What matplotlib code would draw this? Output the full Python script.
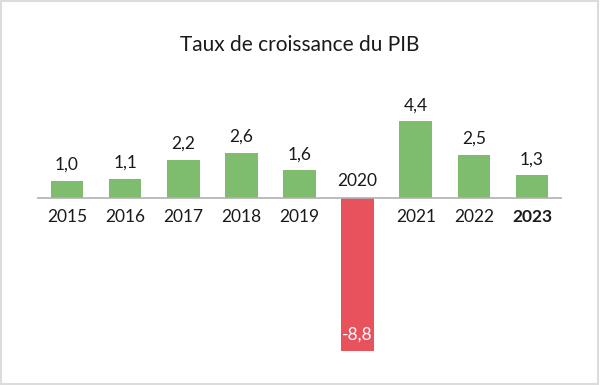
import matplotlib.pyplot as plt
from matplotlib.patches import Rectangle

years = ['2015', '2016', '2017', '2018', '2019', '2020', '2021', '2022', '2023']
growth = [1.0, 1.1, 2.2, 2.6, 1.6, -8.8, 4.4, 2.5, 1.3]

green = '#7fbd6e'
red = '#e8525c'
text_col = '#1a1a1a'

plt.rcParams['font.family'] = ['Lato', 'DejaVu Sans']

fig = plt.figure(figsize=(6, 3.85), dpi=100)
ax = fig.add_axes([37 / 600, 1 - 360 / 385, 525 / 600, 260 / 385])

x = list(range(len(years)))
colors = [green if v >= 0 else red for v in growth]
ax.bar(x, growth, width=0.56, color=colors, zorder=2)
ax.axhline(0, color='#b0b0b0', lw=1.2, zorder=3)

ax.set_xlim(-0.515, len(years) - 0.485)
ax.set_ylim(-(360 - 198) / 17.4, (198 - 100) / 17.4)
ax.axis('off')

pad = 16 / 17.4
for i, (yr, v) in enumerate(zip(years, growth)):
    lab = f'{v:.1f}'.replace('.', ',')
    weight = 'bold' if yr == '2023' else 'normal'
    if v >= 0:
        ax.text(i, v + pad, lab, ha='center', va='center', fontsize=12.5, color=text_col)
        ax.text(i, -19 / 17.4, yr, ha='center', va='center', fontsize=12.5,
                color=text_col, fontweight=weight)
    else:
        ax.text(i, v + pad, lab, ha='center', va='center', fontsize=12.5, color='white')
        ax.text(i, 17 / 17.4, yr, ha='center', va='center', fontsize=12.5,
                color=text_col, fontweight=weight)

fig.text(0.5, 1 - 45 / 385, 'Taux de croissance du PIB', ha='center', va='center',
         fontsize=15, color=text_col)

fig.patches.append(Rectangle((0.002, 0.003), 0.995, 0.994, transform=fig.transFigure,
                             fill=False, edgecolor='#dcdcdc', lw=1.5))

fig.savefig('out.png', dpi=100)
